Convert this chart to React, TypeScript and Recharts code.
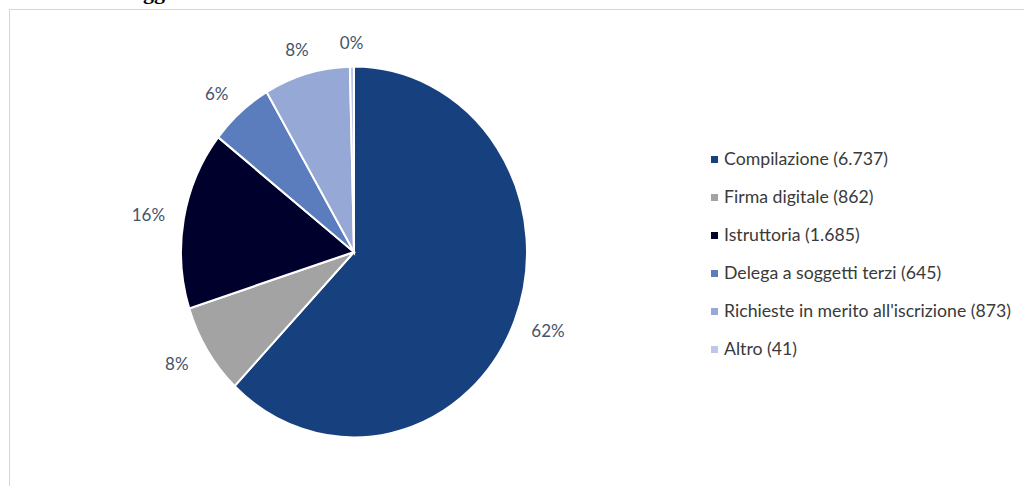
import React from 'react';
import { PieChart, Pie, Cell, Legend } from 'recharts';

const categories = [
  'Compilazione (6.737)',
  'Firma digitale (862)',
  'Istruttoria (1.685)',
  'Delega a soggetti terzi (645)',
  "Richieste in merito all'iscrizione (873)",
  'Altro (41)',
];
const values = [6737, 862, 1685, 645, 873, 41];
const colors = ['#17417e', '#a3a3a3', '#00002d', '#5b7cbd', '#96a8d5', '#bcc8e6'];

const data = categories.map((name, i) => ({ name, value: values[i] }));

const CX = 354;
const CY = 252;
const SY = 1.072;

const renderLabel = (props: any) => {
  const { cx, cy, midAngle, outerRadius, percent } = props;
  const RX = outerRadius + 36;
  const RY = outerRadius + 37;
  const rad = (midAngle * Math.PI) / 180;
  const x = cx + RX * Math.cos(rad);
  const y = cy - RY * Math.sin(rad);
  return (
    <text
      x={x}
      y={y}
      textAnchor="middle"
      dominantBaseline="central"
      fill="#44546a"
      fontSize={17}
      fontFamily="Lato, 'Open Sans', sans-serif"
    >
      {Math.round(percent * 100)}%
    </text>
  );
};

const renderLegend = () => (
  <div style={{ fontFamily: "Lato, 'Open Sans', sans-serif", fontSize: 17.7, color: '#3a3a3a' }}>
    {categories.map((c, i) => (
      <div key={c} style={{ height: 38, display: 'flex', alignItems: 'center', whiteSpace: 'nowrap' }}>
        <span
          style={{
            display: 'inline-block',
            width: 7,
            height: 7,
            background: colors[i],
            marginRight: 6,
            marginTop: 3,
          }}
        />
        <span>{c}</span>
      </div>
    ))}
  </div>
);

export default function App() {
  return (
    <div style={{ position: 'absolute', left: 0, top: 0, width: 1024, height: 486, overflow: 'hidden', background: '#fff' }}>
      <style>{`
        .recharts-pie-sector {
          transform-box: view-box;
          transform-origin: ${CX}px ${CY}px;
          transform: scaleY(${SY});
        }
      `}</style>
      <div
        style={{
          position: 'absolute',
          left: 132,
          top: -19.5,
          fontFamily: "'Liberation Serif', serif",
          fontWeight: 'bold',
          fontSize: 22,
          lineHeight: '22px',
          color: '#000',
          whiteSpace: 'nowrap',
        }}
      >
        oggetto
      </div>
      <div
        style={{
          position: 'absolute',
          left: 9,
          top: 9,
          right: -2,
          bottom: -10,
          borderTop: '1.5px solid #d6d6d6',
          borderLeft: '1.5px solid #d6d6d6',
        }}
      />
      <div style={{ position: 'absolute', left: 0, top: 0 }}>
        <PieChart width={1024} height={486} margin={{ top: 0, right: 0, bottom: 0, left: 0 }}>
          <Pie
            data={data}
            dataKey="value"
            nameKey="name"
            cx={CX}
            cy={CY}
            outerRadius={173}
            startAngle={90}
            endAngle={-270}
            stroke="#ffffff"
            strokeWidth={2}
            label={renderLabel}
            labelLine={false}
            isAnimationActive={false}
          >
            {data.map((d, i) => (
              <Cell key={d.name} fill={colors[i]} />
            ))}
          </Pie>
          <Legend
            layout="vertical"
            content={renderLegend}
            wrapperStyle={{ position: 'absolute', left: 711, top: 139, width: 320 }}
          />
        </PieChart>
      </div>
    </div>
  );
}
